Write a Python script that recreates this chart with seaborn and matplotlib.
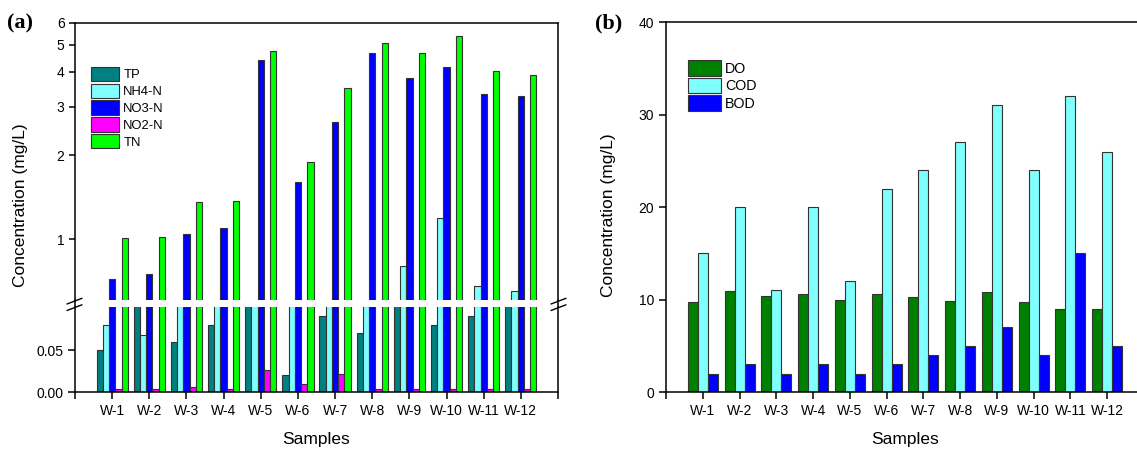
import numpy as np
import pandas as pd
import matplotlib.pyplot as plt
import seaborn as sns
from matplotlib.lines import Line2D
from matplotlib.ticker import FixedLocator, NullLocator

samples = ["W-1", "W-2", "W-3", "W-4", "W-5", "W-6", "W-7", "W-8", "W-9", "W-10", "W-11", "W-12"]

# panel (a) nutrients (mg/L); values above 0.1 that sit in the hidden gap are estimates
tp = [0.05, 0.12, 0.06, 0.08, 0.12, 0.02, 0.09, 0.07, 0.12, 0.08, 0.09, 0.12]
nh4 = [0.08, 0.068, 0.35, 0.40, 0.45, 0.50, 0.30, 0.40, 0.80, 1.19, 0.68, 0.65]
no3 = [0.72, 0.75, 1.04, 1.10, 4.40, 1.60, 2.63, 4.69, 3.80, 4.17, 3.32, 3.28]
no2 = [0.003, 0.003, 0.006, 0.003, 0.026, 0.009, 0.021, 0.003, 0.003, 0.003, 0.003, 0.003]
tn = [1.01, 1.02, 1.36, 1.37, 4.77, 1.90, 3.50, 5.08, 4.69, 5.39, 4.02, 3.89]

# panel (b)
do = [9.7, 10.9, 10.4, 10.6, 10.0, 10.6, 10.3, 9.8, 10.8, 9.7, 9.0, 9.0]
cod = [15, 20, 11, 20, 12, 22, 24, 27, 31, 24, 32, 26]
bod = [2, 3, 2, 3, 2, 3, 4, 5, 7, 4, 15, 5]

nut_names = ["TP", "NH4-N", "NO3-N", "NO2-N", "TN"]
nut_colors = ["#008080", "#80FFFF", "#0000FF", "#FF00FF", "#00FF00"]
org_names = ["DO", "COD", "BOD"]
org_colors = ["#008000", "#80FFFF", "#0000FF"]

df_a = pd.DataFrame({"Sample": samples * 5,
                     "Param": np.repeat(nut_names, len(samples)),
                     "Value": tp + nh4 + no3 + no2 + tn})
df_b = pd.DataFrame({"Sample": samples * 3,
                     "Param": np.repeat(org_names, len(samples)),
                     "Value": do + cod + bod})

sns.set_style("ticks")
plt.rcParams["font.family"] = ["Liberation Sans", "DejaVu Sans"]
plt.rcParams["axes.linewidth"] = 1.1
plt.rcParams["axes.edgecolor"] = "black"
plt.rcParams["xtick.color"] = "black"
plt.rcParams["ytick.color"] = "black"
plt.rcParams["text.color"] = "black"
plt.rcParams["axes.labelcolor"] = "black"
plt.rcParams["xtick.major.width"] = 1.1
plt.rcParams["ytick.major.width"] = 1.1

W, H = 1137, 450
fig = plt.figure(figsize=(W / 100, H / 100), dpi=100)


def box(x0, y0, x1, y1):
    # pixel box (top-left origin) -> figure fraction
    return [x0 / W, 1 - y1 / H, (x1 - x0) / W, (y1 - y0) / H]


ax_top = fig.add_axes(box(75, 23, 558, 300))
ax_bot = fig.add_axes(box(75, 307, 558, 392))
ax_b = fig.add_axes(box(666, 22.3, 1144, 392))

pal_a = dict(zip(nut_names, nut_colors))
pal_b = dict(zip(org_names, org_colors))
bar_kw = dict(edgecolor="#333333", linewidth=0.8, errorbar=None, saturation=1)

for a in (ax_top, ax_bot):
    sns.barplot(data=df_a, x="Sample", y="Value", hue="Param", hue_order=nut_names,
                palette=pal_a, width=0.84, ax=a, legend=(a is ax_top), **bar_kw)
    a.set_xlim(-1, 12)
    a.set_xlabel("")
    a.set_ylabel("")

# top: log part
ax_top.set_yscale("log")
ax_top.set_ylim(0.603, 6)
ax_top.yaxis.set_major_locator(FixedLocator([1, 2, 3, 4, 5, 6]))
ax_top.yaxis.set_minor_locator(NullLocator())
ax_top.set_yticklabels(["1", "2", "3", "4", "5", "6"])
ax_top.set_xticks([])
ax_top.spines["bottom"].set_visible(False)
ax_top.tick_params(axis="y", labelsize=10, length=4, direction="out")

# bottom: linear part
ax_bot.set_ylim(0, 0.1012)
ax_bot.set_yticks([0.0, 0.05])
ax_bot.set_yticklabels(["0.00", "0.05"])
ax_bot.spines["top"].set_visible(False)
ax_bot.set_xticks(range(-1, 13))
ax_bot.set_xticklabels([""] + samples + [""])
ax_bot.tick_params(axis="both", labelsize=10, length=5, direction="out")
ax_bot.set_xlabel("Samples", fontsize=12.5, labelpad=10)

ax_top.legend(loc="upper left", bbox_to_anchor=(0.0325, 0.842), frameon=False,
              fontsize=9.4, handlelength=2.2, handleheight=1.3, labelspacing=0.18,
              handletextpad=0.3, borderaxespad=0, borderpad=0)

# spine pieces and break marks in the gap
for x in (75, 558):
    fig.add_artist(Line2D([x / W, x / W], [1 - 300 / H, 1 - 307 / H],
                          transform=fig.transFigure, color="black", lw=1.1))
for x0 in (67, 551):
    for dy in (0, 6.5):
        fig.add_artist(Line2D([x0 / W, (x0 + 15) / W],
                              [1 - (304 + dy) / H, 1 - (298.3 + dy) / H],
                              transform=fig.transFigure, color="black", lw=1.0))

fig.text(21 / W, 1 - 205 / H, "Concentration (mg/L)", rotation=90,
         ha="center", va="center", fontsize=12.5)

# panel (b)
sns.barplot(data=df_b, x="Sample", y="Value", hue="Param", hue_order=org_names,
            palette=pal_b, width=0.815, ax=ax_b, **bar_kw)
ax_b.set_xlim(-1, 12)
ax_b.set_ylim(0, 40)
ax_b.set_yticks([0, 10, 20, 30, 40])
ax_b.set_xticks(range(-1, 13))
ax_b.set_xticklabels([""] + samples + [""])
ax_b.tick_params(axis="both", labelsize=10, length=5, direction="out")
ax_b.set_xlabel("Samples", fontsize=12.5, labelpad=10)
ax_b.set_ylabel("")
fig.text(608.5 / W, 1 - 215 / H, "Concentration (mg/L)", rotation=90,
         ha="center", va="center", fontsize=12.5)
ax_b.legend(loc="upper left", bbox_to_anchor=(0.046, 0.898), frameon=False,
            fontsize=10.3, handlelength=2.3, handleheight=1.3, labelspacing=0.15,
            handletextpad=0.3, borderaxespad=0, borderpad=0)

fig.text(7 / W, 1 - 23 / H, "(a)", fontsize=16, fontweight="bold",
         family="Liberation Serif", ha="left", va="center")
fig.text(595 / W, 1 - 23 / H, "(b)", fontsize=16, fontweight="bold",
         family="Liberation Serif", ha="left", va="center")

fig.savefig("out.png", dpi=100)
